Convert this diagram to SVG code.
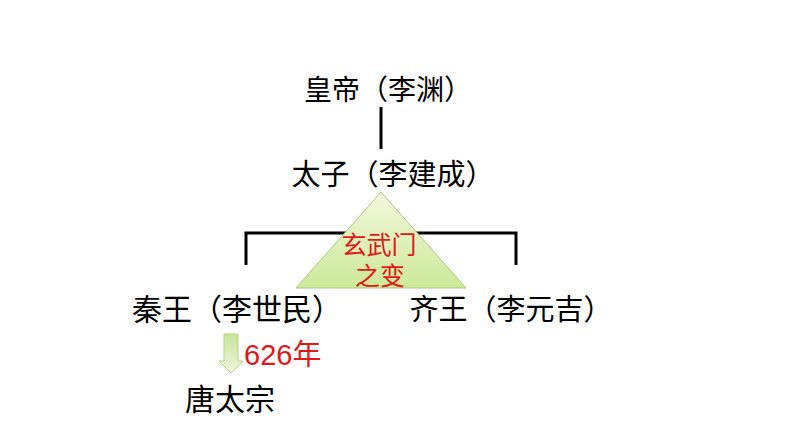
<svg xmlns="http://www.w3.org/2000/svg" width="794" height="447" viewBox="0 0 794 447">
<style>
.t{font-family:"Liberation Sans","Noto Sans CJK SC",sans-serif;fill:#000}
.r{font-family:"Liberation Sans","Noto Sans CJK SC",sans-serif;fill:#e01818}
.ln{stroke:#000;stroke-width:3;fill:none}
</style>
<defs>
<linearGradient id="g" x1="0" y1="0" x2="0" y2="1">
<stop offset="0" stop-color="#f2f8dc"/>
<stop offset="1" stop-color="#cde89a"/>
</linearGradient>
<linearGradient id="ga" x1="0" y1="0" x2="0" y2="1">
<stop offset="0" stop-color="#c8e29a"/>
<stop offset="1" stop-color="#f0f8dc"/>
</linearGradient>
</defs>
<rect width="794" height="447" fill="#fff"/>
<g id="connectors">
<line class="ln" x1="381" y1="107" x2="381" y2="149"/>
<polyline class="ln" points="246,265 246,233 516,233 516,265"/>
<path d="M224,334 H238 V361 H243 L231,373 L219,361 H224 Z" fill="url(#ga)" stroke="#b5d47f" stroke-width="1"/>
</g>
<g id="n1"><text class="t" x="388" y="100" font-size="28" text-anchor="middle">皇帝（李渊）</text></g>
<g id="n2"><text class="t" x="393" y="185" font-size="29" text-anchor="middle">太子（李建成）</text></g>
<g id="n3">
<polygon points="381,192 296,288 466,288" fill="url(#g)" stroke="#a9c97a" stroke-width="1"/>
<text class="r" x="379" y="254" font-size="25" text-anchor="middle">玄武门</text>
<text class="r" x="380" y="285" font-size="25" text-anchor="middle">之变</text>
</g>
<g id="n4"><text class="t" x="237" y="320" font-size="30" text-anchor="middle">秦王（李世民）</text></g>
<g id="n5"><text class="t" x="511" y="320" font-size="29" text-anchor="middle">齐王（李元吉）</text></g>
<g id="n6"><text class="r" x="244" y="365" font-size="29">626年</text></g>
<g id="n7"><text class="t" x="230" y="410" font-size="30" text-anchor="middle">唐太宗</text></g>
</svg>
